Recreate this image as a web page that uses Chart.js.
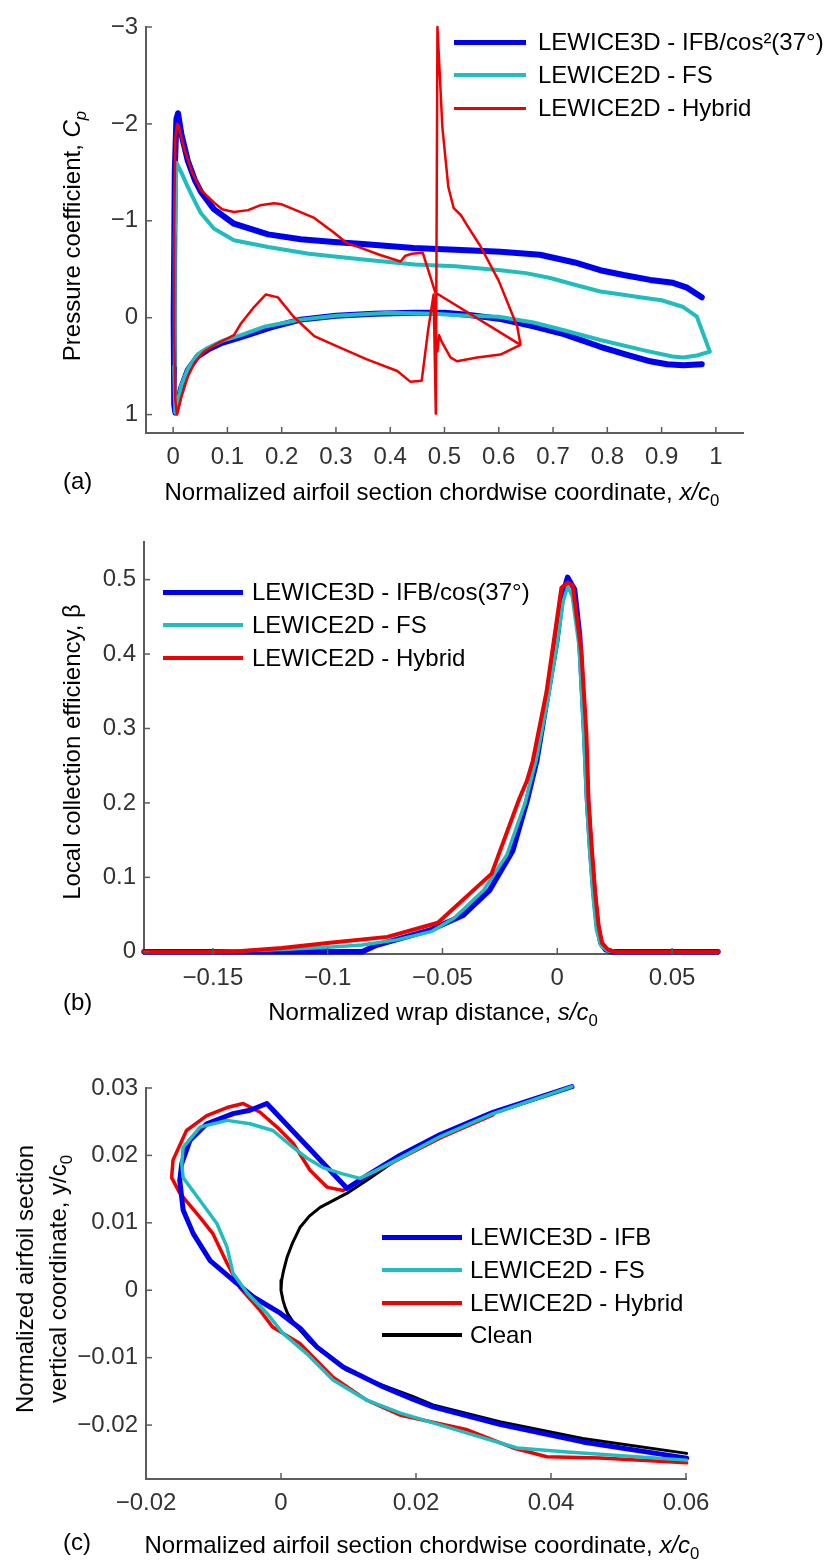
<!DOCTYPE html>
<html>
<head>
<meta charset="utf-8">
<script src="https://cdn.jsdelivr.net/npm/chart.js@4.4.1/dist/chart.umd.min.js"></script>
<style>
html, body { margin: 0; padding: 0; background: #fff; }
body { width: 828px; height: 1561px; position: relative; overflow: hidden; font-family: "Liberation Sans", Arial, sans-serif; }
canvas { position: absolute; left: 0; }
.txt { position: absolute; font-size: 24px; line-height: 24px; color: #000; white-space: nowrap; }
.ctr { transform: translateX(-50%); }
.rot { transform: translate(-50%, -50%) rotate(-90deg); text-align: center; }
sub { font-size: 70%; vertical-align: -0.35em; line-height: 0; font-style: normal; }
i sub { font-style: italic; }
</style>
</head>
<body>
<canvas id="chartA" width="828" height="520" style="top:0px"></canvas>
<canvas id="chartB" width="828" height="480" style="top:520px"></canvas>
<canvas id="chartC" width="828" height="500" style="top:1040px"></canvas>

<div class="txt rot" style="left:72px;top:236px">Pressure coefficient, <i>C<sub>p</sub></i></div>
<div class="txt ctr" style="left:442px;top:480px">Normalized airfoil section chordwise coordinate, <i>x/c</i><sub>0</sub></div>
<div class="txt" style="left:63px;top:469px">(a)</div>

<div class="txt rot" style="left:72px;top:752px">Local collection efficiency, β</div>
<div class="txt ctr" style="left:433px;top:1000px">Normalized wrap distance, <i>s/c</i><sub>0</sub></div>
<div class="txt" style="left:63px;top:990px">(b)</div>

<div class="txt rot" style="left:41px;top:1279px;line-height:33px">Normalized airfoil section<br>vertical coordinate, y/c<sub>0</sub></div>
<div class="txt ctr" style="left:422px;top:1533px">Normalized airfoil section chordwise coordinate, <i>x/c</i><sub>0</sub></div>
<div class="txt" style="left:63px;top:1530px">(c)</div>

<script>
// (a) pressure coefficient
var cpXTicks = [0, 0.1, 0.2, 0.3, 0.4, 0.5, 0.6, 0.7, 0.8, 0.9, 1];
var cpYTicks = [-3, -2, -1, 0, 1];
var cpLabels = ["LEWICE3D - IFB/cos\u00b2(37\u00b0)", "LEWICE2D - FS", "LEWICE2D - Hybrid"];

var cp3dX = [0.974, 0.947, 0.921, 0.879, 0.83, 0.787, 0.74, 0.676, 0.603, 0.52, 0.443, 0.35, 0.296, 0.235, 0.175, 0.112, 0.075, 0.051, 0.04, 0.027, 0.015, 0.009, 0.006, 0.003, 0.001, 0.002, 0.004, 0.008, 0.015, 0.027, 0.045, 0.064, 0.09, 0.125, 0.18, 0.235, 0.3, 0.37, 0.443, 0.5, 0.542, 0.6, 0.664, 0.72, 0.787, 0.84, 0.879, 0.91, 0.94, 0.974];
var cp3dY = [-0.21, -0.31, -0.36, -0.39, -0.44, -0.49, -0.57, -0.65, -0.68, -0.70, -0.72, -0.76, -0.78, -0.81, -0.86, -0.97, -1.12, -1.30, -1.42, -1.62, -1.90, -2.11, -2.05, -1.5, 0.0, 0.9, 0.98, 0.9, 0.72, 0.54, 0.40, 0.33, 0.26, 0.20, 0.10, 0.02, -0.02, -0.04, -0.05, -0.05, -0.03, 0.01, 0.09, 0.17, 0.30, 0.39, 0.45, 0.48, 0.49, 0.48];

var cpFsX = [0.004, 0.002, 0.003, 0.006, 0.015, 0.027, 0.04, 0.051, 0.075, 0.112, 0.175, 0.25, 0.35, 0.445, 0.52, 0.603, 0.65, 0.695, 0.74, 0.787, 0.82, 0.86, 0.90, 0.94, 0.965, 0.989, 0.965, 0.94, 0.92, 0.87, 0.787, 0.72, 0.664, 0.60, 0.542, 0.48, 0.40, 0.30, 0.235, 0.17, 0.125, 0.09, 0.064, 0.045, 0.027, 0.015, 0.008, 0.004];
var cpFsY = [0.98, 0.5, -0.8, -1.60, -1.50, -1.35, -1.20, -1.08, -0.92, -0.80, -0.73, -0.66, -0.60, -0.55, -0.53, -0.49, -0.46, -0.41, -0.34, -0.27, -0.245, -0.21, -0.18, -0.11, -0.01, 0.35, 0.39, 0.41, 0.40, 0.34, 0.23, 0.13, 0.05, -0.01, -0.02, -0.04, -0.05, -0.02, 0.02, 0.09, 0.18, 0.24, 0.31, 0.38, 0.53, 0.70, 0.88, 0.98];

var cpHybX = [0.64, 0.483, 0.46, 0.44, 0.428, 0.419, 0.38, 0.346, 0.32, 0.296, 0.26, 0.217, 0.20, 0.186, 0.16, 0.138, 0.112, 0.09, 0.075, 0.051, 0.035, 0.02, 0.01, 0.007, 0.004, 0.002, 0.002, 0.004, 0.007, 0.015, 0.027, 0.04, 0.057, 0.08, 0.112, 0.125, 0.149, 0.171, 0.193, 0.222, 0.26, 0.296, 0.357, 0.413, 0.437, 0.458, 0.47, 0.48, 0.484, 0.487, 0.496, 0.507, 0.517, 0.53, 0.542, 0.566, 0.60, 0.634, 0.64, 0.603, 0.56, 0.523, 0.511, 0.495, 0.49, 0.487];
var cpHybY = [0.28, -0.26, -0.67, -0.66, -0.64, -0.58, -0.65, -0.72, -0.77, -0.88, -1.03, -1.13, -1.17, -1.18, -1.16, -1.11, -1.09, -1.12, -1.19, -1.32, -1.5, -1.75, -1.98, -2.0, -1.85, -1.0, 0.2, 0.85, 1.0, 0.82, 0.61, 0.46, 0.35, 0.27, 0.18, 0.06, -0.11, -0.24, -0.21, -0.01, 0.19, 0.28, 0.43, 0.55, 0.66, 0.65, 0.12, -0.24, 0.99, -3.0, -1.97, -1.35, -1.13, -1.06, -0.95, -0.74, -0.38, 0.09, 0.28, 0.38, 0.41, 0.45, 0.41, 0.25, 0.18, 0.35];

// (b) collection efficiency
var betaXTicks = [-0.15, -0.1, -0.05, 0, 0.05];
var betaYTicks = [0, 0.1, 0.2, 0.3, 0.4, 0.5];
var betaLabels = ["LEWICE3D - IFB/cos(37\u00b0)", "LEWICE2D - FS", "LEWICE2D - Hybrid"];

var beta3dS = [-0.18, -0.085, -0.0786, -0.0555, -0.041, -0.0294, -0.0194, -0.013, -0.009, -0.0047, -0.0003, 0.0023, 0.0045, 0.0075, 0.0097, 0.012, 0.0132, 0.0145, 0.016, 0.0175, 0.019, 0.021, 0.024, 0.07];
var beta3dB = [0, 0, 0.009, 0.029, 0.049, 0.083, 0.136, 0.205, 0.256, 0.336, 0.416, 0.479, 0.503, 0.487, 0.425, 0.292, 0.203, 0.14, 0.08, 0.035, 0.012, 0.003, 0, 0];

var betaFsS = [-0.18, -0.15, -0.12, -0.1, -0.085, -0.07, -0.055, -0.045, -0.032, -0.022, -0.014, -0.009, -0.004, 0.0, 0.0025, 0.0045, 0.0065, 0.0095, 0.0115, 0.0128, 0.0142, 0.0157, 0.017, 0.019, 0.022, 0.026, 0.07];
var betaFsB = [0, 0, 0.003, 0.006, 0.009, 0.016, 0.027, 0.045, 0.083, 0.13, 0.2, 0.26, 0.34, 0.415, 0.47, 0.49, 0.478, 0.41, 0.29, 0.2, 0.13, 0.07, 0.03, 0.008, 0.001, 0, 0];

var betaHybS = [-0.18, -0.142, -0.12, -0.099, -0.074, -0.052, -0.0286, -0.0165, -0.0133, -0.0107, -0.0047, 0.0018, 0.0045, 0.0067, 0.0105, 0.0127, 0.0136, 0.015, 0.0165, 0.018, 0.0195, 0.022, 0.025, 0.07];
var betaHybB = [0, 0, 0.005, 0.012, 0.02, 0.039, 0.105, 0.206, 0.229, 0.256, 0.349, 0.489, 0.496, 0.492, 0.403, 0.292, 0.203, 0.14, 0.08, 0.035, 0.012, 0.003, 0, 0];

// (c) ice shapes
var iceXTicks = [-0.02, 0, 0.02, 0.04, 0.06];
var iceYTicks = [-0.02, -0.01, 0, 0.01, 0.02, 0.03];
var iceLabels = ["LEWICE3D - IFB", "LEWICE2D - FS", "LEWICE2D - Hybrid", "Clean"];

var cleanX = [0.043, 0.0314, 0.0236, 0.0176, 0.013, 0.0098, 0.0077, 0.0058, 0.0042, 0.0028, 0.0017, 0.0009, 0.0004, 0.0001, 0.0, 0.0003, 0.0006, 0.001, 0.0018, 0.0028, 0.0042, 0.0058, 0.0098, 0.0151, 0.0196, 0.0225, 0.0324, 0.0447, 0.0601];
var cleanY = [0.0302, 0.0262, 0.0229, 0.0197, 0.0165, 0.0144, 0.0133, 0.0123, 0.011, 0.0093, 0.007, 0.0049, 0.003, 0.0015, 0.0, -0.0015, -0.0025, -0.0035, -0.0047, -0.0059, -0.0075, -0.0089, -0.0119, -0.0141, -0.0158, -0.0170, -0.0195, -0.0220, -0.0242];

var ice3dX = [0.0431, 0.0314, 0.0236, 0.0176, 0.013, 0.0098, -0.0021, -0.0046, -0.0071, -0.011, -0.0135, -0.0147, -0.015, -0.0145, -0.013, -0.0105, -0.0071, -0.0041, -0.0001, 0.0030, 0.0053, 0.0092, 0.0151, 0.0196, 0.0225, 0.0324, 0.0447, 0.0601];
var ice3dY = [0.0302, 0.0264, 0.0231, 0.0200, 0.0172, 0.0151, 0.0277, 0.0267, 0.0262, 0.0247, 0.0222, 0.0188, 0.0163, 0.0119, 0.0084, 0.0044, 0.0015, -0.0010, -0.0034, -0.0058, -0.0084, -0.0114, -0.0143, -0.0162, -0.0173, -0.0199, -0.0225, -0.0249];

var iceFsX = [0.0431, 0.0314, 0.0236, 0.0176, 0.014, 0.0117, 0.009, 0.0062, 0.004, 0.0018, -0.0012, -0.0046, -0.008, -0.012, -0.0145, -0.0147, -0.0145, -0.012, -0.0095, -0.008, -0.0071, -0.005, -0.0021, 0.0003, 0.0038, 0.0077, 0.0127, 0.0176, 0.0276, 0.035, 0.0424, 0.0601];
var iceFsY = [0.0302, 0.0262, 0.0228, 0.0196, 0.0177, 0.0166, 0.0173, 0.0182, 0.0195, 0.0212, 0.0237, 0.0247, 0.0252, 0.0242, 0.0212, 0.0188, 0.0167, 0.0133, 0.0099, 0.0064, 0.0025, -0.0004, -0.0034, -0.0064, -0.0094, -0.0133, -0.0163, -0.0182, -0.0212, -0.0234, -0.0240, -0.0252];

var iceHybX = [0.0314, 0.0236, 0.0176, 0.014, 0.0117, 0.0092, 0.0068, 0.0043, 0.0018, -0.0006, -0.0031, -0.0056, -0.008, -0.011, -0.014, -0.016, -0.0162, -0.015, -0.012, -0.0101, -0.008, -0.0061, -0.0031, -0.0012, 0.0028, 0.0077, 0.0127, 0.0176, 0.0276, 0.0344, 0.0394, 0.0473, 0.0601];
var iceHybY = [0.0260, 0.0226, 0.0195, 0.0176, 0.0163, 0.0148, 0.0153, 0.0178, 0.0218, 0.0242, 0.0264, 0.0277, 0.0271, 0.0259, 0.0237, 0.0193, 0.0167, 0.0144, 0.0108, 0.0084, 0.0040, 0.0004, -0.0030, -0.0055, -0.0079, -0.0129, -0.0163, -0.0185, -0.0207, -0.0234, -0.0247, -0.0249, -0.0256];

var BLUE = "#0000f0";
var CYAN = "#1fbdbd";
var RED = "#f00000";
var BLACK = "#000000";
var AXIS_COLOR = "#5c5c5c";
var TICK_COLOR = "#333333";
var FONT = "\"Liberation Sans\", Arial, sans-serif";

Chart.defaults.font.family = FONT;

function pts(xs, ys) {
    return xs.map(function(x, i) { return { x: x, y: ys[i] }; });
}

function lineSet(label, xs, ys, color, width, order) {
    return {
        label: label,
        data: pts(xs, ys),
        showLine: true,
        borderColor: color,
        backgroundColor: color,
        borderWidth: width,
        pointRadius: 0,
        pointHoverRadius: 0,
        tension: 0,
        borderJoinStyle: "round",
        borderCapStyle: "round",
        clip: false,
        order: order
    };
}

function fmtTick(v) {
    return String(v).replace("-", "\u2212");
}

function axis(pos, min, max, tickValues, reverse) {
    var isX = pos === "bottom";
    return {
        type: "linear",
        position: pos,
        min: min,
        max: max,
        reverse: !!reverse,
        grid: { display: false, drawTicks: false },
        border: { display: true, color: AXIS_COLOR, width: 2 },
        ticks: {
            autoSkip: false,
            maxRotation: 0,
            padding: isX ? 10 : 8,
            color: TICK_COLOR,
            font: { size: 24 },
            callback: fmtTick
        },
        afterBuildTicks: function(scale) {
            scale.ticks = tickValues.map(function(v) { return { value: v }; });
        },
        afterFit: function(scale) {
            if (isX) {
                scale.height = 40;
            } else {
                scale.width = 100;
            }
        }
    };
}

// small tick marks pointing into the plot, like the original figure
var innerTicks = {
    id: "innerTicks",
    afterDraw: function(chart) {
        var ctx = chart.ctx;
        var area = chart.chartArea;
        var xs = chart.scales.x;
        var ys = chart.scales.y;
        ctx.save();
        ctx.strokeStyle = AXIS_COLOR;
        ctx.lineWidth = 1.5;
        xs.ticks.forEach(function(t) {
            var px = xs.getPixelForValue(t.value);
            ctx.beginPath();
            ctx.moveTo(px, area.bottom);
            ctx.lineTo(px, area.bottom - 6);
            ctx.stroke();
        });
        ys.ticks.forEach(function(t) {
            var py = ys.getPixelForValue(t.value);
            ctx.beginPath();
            ctx.moveTo(area.left, py);
            ctx.lineTo(area.left + 6, py);
            ctx.stroke();
        });
        ctx.restore();
    }
};

function makeChart(id, datasets, xAxis, yAxis, padding) {
    return new Chart(document.getElementById(id), {
        type: "scatter",
        data: { datasets: datasets },
        options: {
            responsive: false,
            animation: false,
            devicePixelRatio: 1,
            layout: { padding: padding },
            plugins: { legend: { display: false }, tooltip: { enabled: false } },
            scales: { x: xAxis, y: yAxis }
        },
        plugins: [innerTicks]
    });
}

function drawLegend(x1, x2, textX, rows) {
    rows.forEach(function(r) {
        var ln = document.createElement("div");
        ln.style.position = "absolute";
        ln.style.left = x1 + "px";
        ln.style.top = (r.y - r.w / 2) + "px";
        ln.style.width = (x2 - x1) + "px";
        ln.style.height = r.w + "px";
        ln.style.background = r.color;
        document.body.appendChild(ln);

        var tx = document.createElement("div");
        tx.className = "txt";
        tx.style.left = textX + "px";
        tx.style.top = (r.y - 12) + "px";
        tx.textContent = r.label;
        document.body.appendChild(tx);
    });
}

window.addEventListener("load", function() {
    makeChart("chartA", [
        lineSet(cpLabels[0], cp3dX, cp3dY, BLUE, 6, 3),
        lineSet(cpLabels[1], cpFsX, cpFsY, CYAN, 4, 2),
        lineSet(cpLabels[2], cpHybX, cpHybY, RED, 2.5, 1)
    ], axis("bottom", -0.05, 1.05, cpXTicks), axis("left", -3, 1.19, cpYTicks, true),
    { left: 46, right: 85, top: 27, bottom: 47 });

    makeChart("chartB", [
        lineSet(betaLabels[0], beta3dS, beta3dB, BLUE, 5.5, 3),
        lineSet(betaLabels[1], betaFsS, betaFsB, CYAN, 3.5, 2),
        lineSet(betaLabels[2], betaHybS, betaHybB, RED, 4, 1)
    ], axis("bottom", -0.18, 0.07, betaXTicks), axis("left", -0.003, 0.55, betaYTicks),
    { left: 44, right: 110, top: 20, bottom: 6 });

    makeChart("chartC", [
        lineSet(iceLabels[0], ice3dX, ice3dY, BLUE, 5, 2),
        lineSet(iceLabels[1], iceFsX, iceFsY, CYAN, 3.5, 1),
        lineSet(iceLabels[2], iceHybX, iceHybY, RED, 3.5, 3),
        lineSet(iceLabels[3], cleanX, cleanY, BLACK, 3, 4)
    ], axis("bottom", -0.02, 0.06, iceXTicks), axis("left", -0.028, 0.03, iceYTicks),
    { left: 46, right: 142, top: 48, bottom: 21 });

    drawLegend(454, 526, 538, [
        { y: 42, w: 5, color: BLUE, label: cpLabels[0] },
        { y: 75, w: 4, color: CYAN, label: cpLabels[1] },
        { y: 108, w: 3, color: RED, label: cpLabels[2] }
    ]);
    drawLegend(163, 243, 252, [
        { y: 592, w: 5, color: BLUE, label: betaLabels[0] },
        { y: 625, w: 4, color: CYAN, label: betaLabels[1] },
        { y: 658, w: 4, color: RED, label: betaLabels[2] }
    ]);
    drawLegend(382, 462, 470, [
        { y: 1237, w: 5, color: BLUE, label: iceLabels[0] },
        { y: 1270, w: 4, color: CYAN, label: iceLabels[1] },
        { y: 1303, w: 4, color: RED, label: iceLabels[2] },
        { y: 1335, w: 4, color: BLACK, label: iceLabels[3] }
    ]);
});
</script>
</body>
</html>
